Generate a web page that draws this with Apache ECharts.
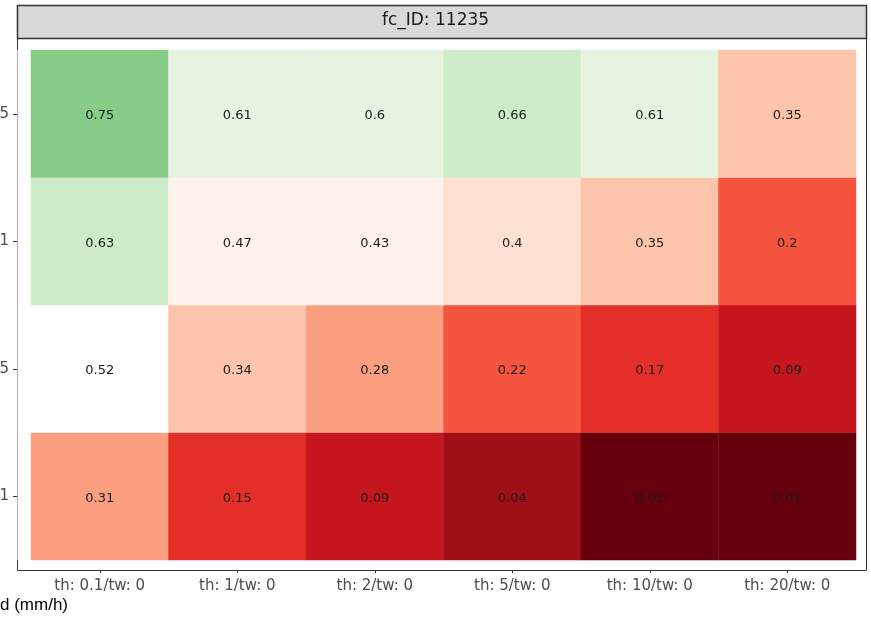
<!DOCTYPE html>
<html>
<head>
<meta charset="utf-8">
<script src="https://cdn.jsdelivr.net/npm/echarts@6/dist/echarts.min.js"></script>
<style>html,body{margin:0;padding:0;background:#fff;}#c{width:871px;height:623px;}</style>
</head>
<body>
<div id="c"></div>
<script>
var xCategories = ['th: 0.1/tw: 0','th: 1/tw: 0','th: 2/tw: 0','th: 5/tw: 0','th: 10/tw: 0','th: 20/tw: 0'];
var yCategories = ['1','5','1','5']; // bottom to top (labels clipped as in reference)
var row4 = [0.75,0.61,0.6,0.66,0.61,0.35]; // top
var row3 = [0.63,0.47,0.43,0.4,0.35,0.2];
var row2 = [0.52,0.34,0.28,0.22,0.17,0.09];
var row1 = [0.31,0.15,0.09,0.04,0.02,0.01]; // bottom
var stripTitle = 'fc_ID: 11235';
var axisTitle = 'd (mm/h)';

var rows = [row1,row2,row3,row4];
var data = [];
rows.forEach(function(r, yi){ r.forEach(function(v, xi){ data.push([xi, yi, v]); }); });

var font = 'DejaVu Sans, Liberation Sans, sans-serif';
var chart = echarts.init(document.getElementById('c'), null, {renderer:'canvas'});
chart.setOption({
  animation:false,
  backgroundColor:'#ffffff',
  grid:{left:31, right:15, top:50, bottom:63, containLabel:false, outerBoundsMode:'none'},
  xAxis:{type:'category', data:xCategories, offset:10,
    axisLine:{show:true, lineStyle:{color:'#333333', width:1}},
    axisTick:{show:true, alignWithLabel:true, length:3, lineStyle:{color:'#333333'}},
    axisLabel:{color:'#4d4d4d', fontSize:15, fontFamily:font, margin:9},
    splitLine:{show:false}},
  yAxis:{type:'category', data:yCategories, offset:14,
    axisLine:{show:true, lineStyle:{color:'#b0b0b0', width:1}},
    axisTick:{show:true, alignWithLabel:true, length:4, lineStyle:{color:'#333333'}},
    axisLabel:{color:'#4d4d4d', fontSize:15, fontFamily:font, margin:8},
    splitLine:{show:false}},
  visualMap:{show:false, type:'piecewise', dimension:2, pieces:[
    {gte:0, lt:0.03, color:'#67000d'},
    {gte:0.03, lt:0.06, color:'#a10f16'},
    {gte:0.06, lt:0.12, color:'#c4161c'},
    {gte:0.12, lt:0.19, color:'#e32f27'},
    {gte:0.19, lt:0.25, color:'#f5553f'},
    {gte:0.25, lt:0.32, color:'#fc9e80'},
    {gte:0.32, lt:0.38, color:'#fcc4aa'},
    {gte:0.38, lt:0.42, color:'#fee0d2'},
    {gte:0.42, lt:0.5, color:'#fff2ed'},
    {gte:0.5, lt:0.55, color:'#ffffff'},
    {gte:0.55, lt:0.62, color:'#e7f3e1'},
    {gte:0.62, lt:0.7, color:'#cdebc8'},
    {gte:0.7, lte:1, color:'#88cd87'}
  ]},
  series:[{type:'heatmap', data:data, itemStyle:{borderWidth:0},
    label:{show:true, color:'#1a1a1a', fontSize:13, fontFamily:font, offset:[0,2],
      formatter:function(p){return String(p.value[2]);}},
    emphasis:{disabled:true}}],
  graphic:[
    {type:'rect', shape:{x:17.5, y:5.5, width:849, height:565}, style:{fill:'none', stroke:'#333333', lineWidth:1}, z:-1},
    {type:'rect', shape:{x:17.5, y:5.5, width:849, height:33}, style:{fill:'#d9d9d9', stroke:'#333333', lineWidth:1.5}},
    {type:'text', left:'center', top:12, style:{text:stripTitle, fill:'#1a1a1a', font:'17px DejaVu Sans, Liberation Sans, sans-serif'}},
    {type:'text', left:0, top:597, style:{text:axisTitle, fill:'#000000', font:'17px Liberation Sans Narrow, Liberation Sans, Arial, sans-serif'}}
  ]
});
</script>
</body>
</html>
